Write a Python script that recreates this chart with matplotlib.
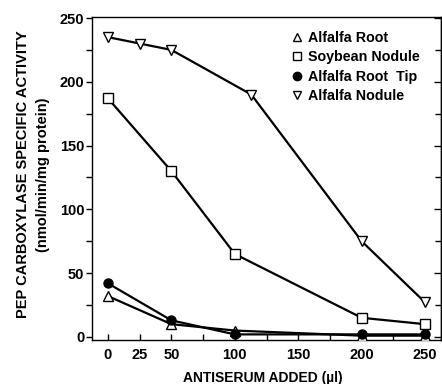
import matplotlib
matplotlib.use("Agg")
import matplotlib.pyplot as plt
from matplotlib.lines import Line2D
from matplotlib.ticker import FixedLocator, MultipleLocator

# ---- data ----
x_std = [0, 50, 100, 200, 250]
alfalfa_root = [32, 10, 5, 1, 1]
soybean_nodule = [187, 130, 65, 15, 10]
alfalfa_root_tip = [42, 13, 2, 2, 2]
x_nodule = [0, 25, 50, 113, 200, 250]
alfalfa_nodule = [235, 230, 225, 190, 75, 27]

series_names = ["Alfalfa Root", "Soybean Nodule", "Alfalfa Root  Tip", "Alfalfa Nodule"]
xtick_vals = [0, 25, 50, 100, 150, 200, 250]
xtick_labels = ["0", "25", "50", "100", "150", "200", "250"]
ytick_vals = [0, 50, 100, 150, 200, 250]

FONT = "Liberation Sans"
plt.rcParams["font.family"] = [FONT, "DejaVu Sans"]
plt.rcParams["font.weight"] = "bold"

W, H = 442, 384
fig = plt.figure(figsize=(W / 100, H / 100), dpi=100)
ax = fig.add_axes([92 / W, 1 - 340 / H, 349 / W, 323 / H])

lw = 1.6
common = dict(color="black", linewidth=lw, markeredgecolor="black", markeredgewidth=1.0)
ax.plot(x_std, alfalfa_root, marker="^", markersize=7, markerfacecolor="white", **common, zorder=3)
ax.plot(x_std, soybean_nodule, marker="s", markersize=6.5, markerfacecolor="white", **common, zorder=3)
ax.plot(x_std, alfalfa_root_tip, marker="o", markersize=6.5, markerfacecolor="black", **common, zorder=4)
ax.plot(x_nodule, alfalfa_nodule, marker="v", markersize=7.5, markerfacecolor="white", **common, zorder=3)

ax.set_xlim(-12.6, 262.5)
ax.set_ylim(-2.4, 250.8)

ax.xaxis.set_major_locator(FixedLocator(xtick_vals))
ax.set_xticklabels(xtick_labels)
ax.xaxis.set_minor_locator(FixedLocator([75, 125, 175, 225]))
ax.yaxis.set_major_locator(FixedLocator(ytick_vals))
ax.yaxis.set_minor_locator(MultipleLocator(25))

ax.tick_params(axis="x", which="both", direction="in", top=False, length=4, width=1,
               labelsize=10.5, pad=6)
ax.tick_params(axis="y", which="both", direction="out", left=True, right=False, length=4, width=1,
               labelsize=10.5, pad=1.5)
for lab in ax.get_xticklabels() + ax.get_yticklabels():
    lab.set_fontweight("bold")

# right-side inward ticks
sec = ax.secondary_yaxis("right")
sec.yaxis.set_major_locator(FixedLocator(ytick_vals))
sec.yaxis.set_minor_locator(MultipleLocator(25))
sec.tick_params(axis="y", which="major", direction="in", length=5, width=1, labelright=False)
sec.tick_params(axis="y", which="minor", direction="in", length=4, width=1)
sec.spines["right"].set_linewidth(1.0)

for s in ax.spines.values():
    s.set_linewidth(1.0)

fig.text(263 / W, 1 - 378 / H, "ANTISERUM ADDED (\u00b5l)", fontsize=10, fontweight="bold",
         ha="center", va="center")
fig.text(23 / W, 1 - 174 / H, "PEP CARBOXYLASE SPECIFIC ACTIVITY", fontsize=10.5,
         fontweight="bold", rotation=90, ha="center", va="center")
fig.text(43 / W, 1 - 175 / H, "(nmol/min/mg protein)", fontsize=10.5,
         fontweight="bold", rotation=90, ha="center", va="center")

handles = [
    Line2D([], [], linestyle="none", marker="^", markersize=6, markerfacecolor="white", markeredgecolor="black"),
    Line2D([], [], linestyle="none", marker="s", markersize=5.5, markerfacecolor="white", markeredgecolor="black"),
    Line2D([], [], linestyle="none", marker="o", markersize=6, markerfacecolor="black", markeredgecolor="black"),
    Line2D([], [], linestyle="none", marker="v", markersize=6, markerfacecolor="white", markeredgecolor="black"),
]
leg = ax.legend(handles, series_names, loc="upper left", bbox_to_anchor=(0.538, 0.997),
                frameon=False, handlelength=0.6, handletextpad=0.5, labelspacing=0.38,
                prop=dict(family=FONT, weight="bold", size=10.3))

fig.savefig("out.png", dpi=100)
